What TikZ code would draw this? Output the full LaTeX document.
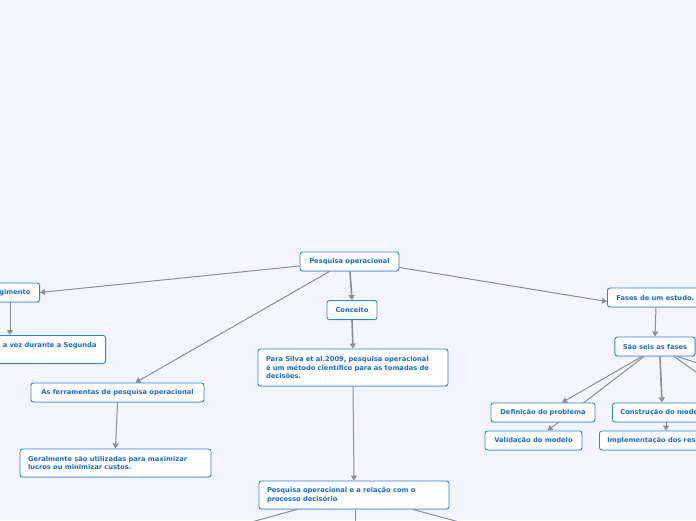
\documentclass[tikz,border=0pt]{standalone}
\usepackage{fontspec}
\setmainfont{DejaVu Sans}
\usepackage{tikz}
\usetikzlibrary{arrows.meta,shadows}
\usepackage{xcolor}

\definecolor{bgblue}{HTML}{F2F5FE}
\definecolor{boxline}{HTML}{2E84E0}
\definecolor{boxtext}{HTML}{1C6CCB}
\definecolor{linkgray}{HTML}{8A8E98}

\pgfdeclarelayer{back}
\pgfdeclarelayer{links}
\pgfsetlayers{back,links,main}

\begin{document}
\begin{tikzpicture}[
x=1pt,
y=-1pt,
>={Triangle[length=5pt,width=6pt]},
font=\fontsize{6.7}{8.7}\selectfont\bfseries,
topic/.style={
draw=boxline,
line width=0.9pt,
fill=white,
rounded corners=2.5pt,
text=boxtext,
inner xsep=8pt,
inner ysep=0pt,
minimum height=19pt,
drop shadow={shadow xshift=0pt,shadow yshift=-0.8pt,opacity=0.25}
},
para/.style={
topic,
align=left
},
link/.style={
->,
draw=linkgray,
line width=1pt
},
thick link/.style={
link,
line width=1.6pt
}
]

\useasboundingbox (0,0) rectangle (696,520);
\clip (0,0) rectangle (696,520);

\begin{pgfonlayer}{back}
\fill[bgblue] (0,0) rectangle (696,520);
\end{pgfonlayer}

% central topic
\node[topic,minimum width=99pt] (po) at (349.5,261.5) {Pesquisa operacional};

% left branch
\node[topic,anchor=east,inner xsep=9pt] (surg) at (40,292.5) {gimento};
\node[topic,anchor=north east,align=right,text width=120pt,inner xsep=9pt,minimum height=28pt] (war) at (106,335)
{a vez durante a Segunda\\\mbox{}};
\node[topic,minimum width=173pt] (tools) at (117.5,392.5) {As ferramentas de pesquisa operacional};
\node[para,text width=175pt,minimum height=28pt] (geral) at (115.5,463)
{Geralmente são utilizadas para maximizar\\lucros ou minimizar custos.};

% middle branch
\node[topic,minimum width=50pt] (conc) at (352,310) {Conceito};
\node[para,text width=174pt,minimum height=37pt] (silva) at (353,367.5)
{Para Silva et al.2009, pesquisa operacional\\é um método científico para as tomadas de\\decisões.};
\node[para,text width=174pt,minimum height=28pt] (rel) at (354,495)
{Pesquisa operacional e a relação com o\\processo decisório};

% right branch
\node[topic,anchor=west,inner xsep=9pt] (fases) at (607,297.5) {Fases de um estudo.};
\node[topic,minimum width=78pt] (seis) at (655,346.5) {São seis as fases};
\node[topic,minimum width=104pt] (defp) at (543,412.5) {Definição do problema};
\node[topic,minimum width=97pt] (valid) at (533.5,440.5) {Validação do modelo};
\node[topic,anchor=west] (constr) at (612,412.5) {Construção do modelo};
\node[topic,anchor=west] (impl) at (599,440.5) {Implementação dos resultados};

% free ends outside the frame
\coordinate (offa) at (716,386);
\coordinate (offb) at (722,371);
\coordinate (offc) at (237,526);
\coordinate (offd) at (355,526);
\coordinate (offe) at (474,526);

\begin{pgfonlayer}{links}
\path
([yshift=-4.5pt]po.west) edge[link] (surg.east)
([xshift=-20pt]po.south) edge[link] ([xshift=18pt]tools.north)
([xshift=0.5pt]po.south) edge[thick link] (conc.north)
([yshift=-6pt]po.east) edge[link] ([yshift=-4pt]fases.west)
([xshift=-30pt]surg.south east) edge[link] ([xshift=-96pt]war.north east)
(tools.south) edge[link] (geral.north)
(conc.south) edge[thick link] (silva.north)
(silva.south) edge[link] (rel.north)
([xshift=-57pt]rel.south) edge[link] (offc)
([xshift=1pt]rel.south) edge[link] (offd)
([xshift=59pt]rel.south) edge[link] (offe)
([xshift=49pt]fases.south west) edge[link] (seis.north)
([xshift=-13pt]seis.south) edge[link] ([xshift=19pt]defp.north)
([xshift=-11pt]seis.south) edge[link] ([xshift=14pt]valid.north)
([xshift=5pt]seis.south) edge[thick link] ([xshift=50pt]constr.north west)
([xshift=54pt]constr.south west) edge[link] ([xshift=67pt]impl.north west)
([xshift=19pt]seis.south) edge[link] (offa)
([xshift=22pt]seis.south) edge[link] (offb);
\end{pgfonlayer}

\end{tikzpicture}
\end{document}
